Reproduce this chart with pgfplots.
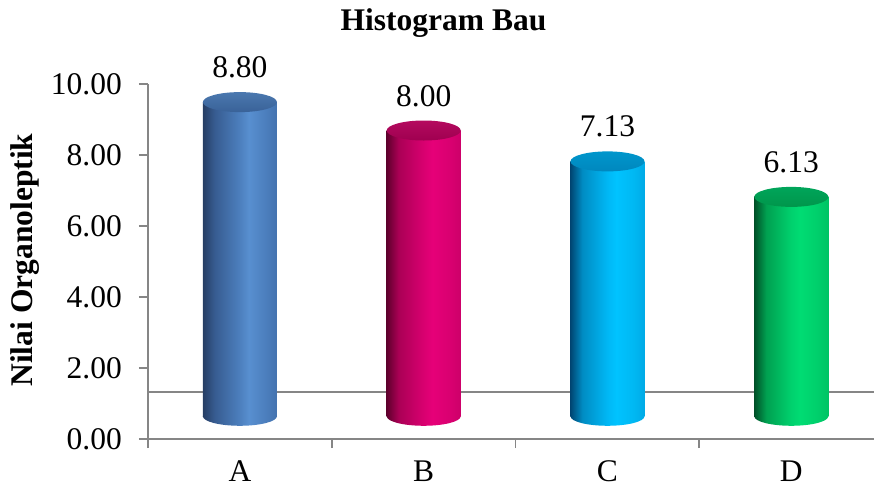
\documentclass[border=0pt]{standalone}
\usepackage{fontspec}
\setmainfont{Liberation Serif}
\usepackage{pgfplots}
\usepackage{pgfplotstable}
\pgfplotsset{compat=1.18}

\definecolor{axisgray}{RGB}{134,134,134}

% scores per sample
\pgfplotstableread{
x v
0 8.80
1 8.00
2 7.13
3 6.13
}\bau

% body shadings: dark left edge, highlight right of centre
\pgfdeclarehorizontalshading{cyl0}{100bp}{rgb(0bp)=(.149,.243,.392); rgb(25bp)=(.149,.243,.392); rgb(33bp)=(.216,.361,.569); rgb(50bp)=(.300,.500,.745); rgb(56bp)=(.345,.561,.816); rgb(68bp)=(.294,.490,.737); rgb(75bp)=(.267,.451,.686); rgb(100bp)=(.267,.451,.686)}
\pgfdeclarehorizontalshading{cyl1}{100bp}{rgb(0bp)=(.373,0,.176); rgb(25bp)=(.373,0,.176); rgb(33bp)=(.667,0,.333); rgb(50bp)=(.850,0,.440); rgb(56bp)=(.902,0,.471); rgb(68bp)=(.850,0,.440); rgb(75bp)=(.804,0,.412); rgb(100bp)=(.804,0,.412)}
\pgfdeclarehorizontalshading{cyl2}{100bp}{rgb(0bp)=(0,.275,.451); rgb(25bp)=(0,.275,.451); rgb(33bp)=(0,.549,.765); rgb(50bp)=(0,.720,.960); rgb(56bp)=(0,.765,1); rgb(68bp)=(0,.720,.950); rgb(75bp)=(0,.667,.902); rgb(100bp)=(0,.667,.902)}
\pgfdeclarehorizontalshading{cyl3}{100bp}{rgb(0bp)=(0,.314,.157); rgb(25bp)=(0,.314,.157); rgb(33bp)=(0,.627,.314); rgb(50bp)=(0,.820,.430); rgb(56bp)=(0,.863,.451); rgb(68bp)=(0,.810,.420); rgb(75bp)=(0,.765,.392); rgb(100bp)=(0,.765,.392)}

% top faces: slightly lighter towards the back
\pgfdeclareverticalshading{cap0}{100bp}{rgb(0bp)=(.224,.384,.596); rgb(25bp)=(.224,.384,.596); rgb(75bp)=(.294,.471,.686); rgb(100bp)=(.294,.471,.686)}
\pgfdeclareverticalshading{cap1}{100bp}{rgb(0bp)=(.627,0,.314); rgb(25bp)=(.627,0,.314); rgb(75bp)=(.706,.04,.373); rgb(100bp)=(.706,.04,.373)}
\pgfdeclareverticalshading{cap2}{100bp}{rgb(0bp)=(0,.530,.745); rgb(25bp)=(0,.530,.745); rgb(75bp)=(0,.590,.800); rgb(100bp)=(0,.590,.800)}
\pgfdeclareverticalshading{cap3}{100bp}{rgb(0bp)=(0,.588,.294); rgb(25bp)=(0,.588,.294); rgb(75bp)=(0,.647,.353); rgb(100bp)=(0,.647,.353)}

% elliptic ends of the cylinders
\pgfdeclareplotmark{bot0}{\pgfpathellipse{\pgfpointorigin}{\pgfqpoint{37pt}{0pt}}{\pgfqpoint{0pt}{9.5pt}}\pgfshadepath{cyl0}{0}\pgfusepath{discard}}
\pgfdeclareplotmark{bot1}{\pgfpathellipse{\pgfpointorigin}{\pgfqpoint{37pt}{0pt}}{\pgfqpoint{0pt}{9.5pt}}\pgfshadepath{cyl1}{0}\pgfusepath{discard}}
\pgfdeclareplotmark{bot2}{\pgfpathellipse{\pgfpointorigin}{\pgfqpoint{37pt}{0pt}}{\pgfqpoint{0pt}{9.5pt}}\pgfshadepath{cyl2}{0}\pgfusepath{discard}}
\pgfdeclareplotmark{bot3}{\pgfpathellipse{\pgfpointorigin}{\pgfqpoint{37pt}{0pt}}{\pgfqpoint{0pt}{9.5pt}}\pgfshadepath{cyl3}{0}\pgfusepath{discard}}
\pgfdeclareplotmark{top0}{\pgfpathellipse{\pgfpointorigin}{\pgfqpoint{37pt}{0pt}}{\pgfqpoint{0pt}{10pt}}\pgfshadepath{cap0}{0}\pgfusepath{discard}}
\pgfdeclareplotmark{top1}{\pgfpathellipse{\pgfpointorigin}{\pgfqpoint{37pt}{0pt}}{\pgfqpoint{0pt}{10pt}}\pgfshadepath{cap1}{0}\pgfusepath{discard}}
\pgfdeclareplotmark{top2}{\pgfpathellipse{\pgfpointorigin}{\pgfqpoint{37pt}{0pt}}{\pgfqpoint{0pt}{10pt}}\pgfshadepath{cap2}{0}\pgfusepath{discard}}
\pgfdeclareplotmark{top3}{\pgfpathellipse{\pgfpointorigin}{\pgfqpoint{37pt}{0pt}}{\pgfqpoint{0pt}{10pt}}\pgfshadepath{cap3}{0}\pgfusepath{discard}}

\newcommand\chartfont{\fontsize{31.5}{36}\selectfont}

\begin{document}
\begin{tikzpicture}
\begin{axis}[
  scale only axis,
  width=726pt, height=355pt,
  xmin=-0.5, xmax=3.45,
  ymin=0, ymax=10,
  clip=false,
  axis lines*=left,
  axis line style={axisgray, line width=1.8pt},
  tick style={axisgray, line width=1.8pt},
  tick align=outside,
  major tick length=9pt,
  ytick={0,2,4,6,8,10},
  /pgf/number format/assume math mode=true,
  yticklabel style={/pgf/number format/.cd, fixed, fixed zerofill, precision=2, /tikz/.cd,
    font=\chartfont, anchor=east, inner sep=0pt, xshift=-17pt},
  xtick={-0.5,0.5,1.5,2.5},
  xticklabels={},
  extra x ticks={0,1,2,3},
  extra x tick labels={A,B,C,D},
  extra x tick style={major tick length=0pt},
  xticklabel style={font=\chartfont, anchor=base, inner sep=0pt, yshift=-42.5pt},
  ylabel={\bfseries Nilai Organoleptik},
  ylabel style={font=\chartfont, at={(axis description cs:-0.1584,0.504)}, anchor=base},
  title={\bfseries Histogram Bau},
  title style={font=\chartfont, at={(axis description cs:0.407,1.135)}, anchor=base, inner sep=0pt},
]
% back edge of the floor
\addplot[axisgray, line width=1.8pt, mark=none] coordinates {(-0.5,1.32) (3.45,1.32)};

\pgfplotsinvokeforeach{0,1,2,3}{
  \pgfplotstablegetelem{#1}{v}\of\bau
  \pgfmathsetmacro\vtop{\pgfplotsretval+0.69}
  \pgfmathsetmacro\xl{#1-0.2013}
  \pgfmathsetmacro\xr{#1+0.2013}
  \addplot[only marks, mark=bot#1] coordinates {(#1,0.64)};
  \addplot[draw=none, shade, shading=cyl#1, mark=none] coordinates {(\xl,0.64) (\xr,0.64) (\xr,\vtop) (\xl,\vtop)};
  \addplot[only marks, mark=top#1] coordinates {(#1,\vtop)};
}

% value labels
\addplot[draw=none, mark=none, point meta=explicit,
  nodes near coords={\pgfmathprintnumber[fixed,fixed zerofill,precision=2]{\pgfplotspointmeta}},
  every node near coord/.append style={font=\chartfont, anchor=base, inner sep=0pt}]
  table[x=x, y expr=\thisrow{v}+1.38, meta=v] {\bau};
\end{axis}
\pgfresetboundingbox
\path (current axis.south west) ++(-148pt,-49pt) rectangle ++(874pt,488pt);
\end{tikzpicture}
\end{document}
